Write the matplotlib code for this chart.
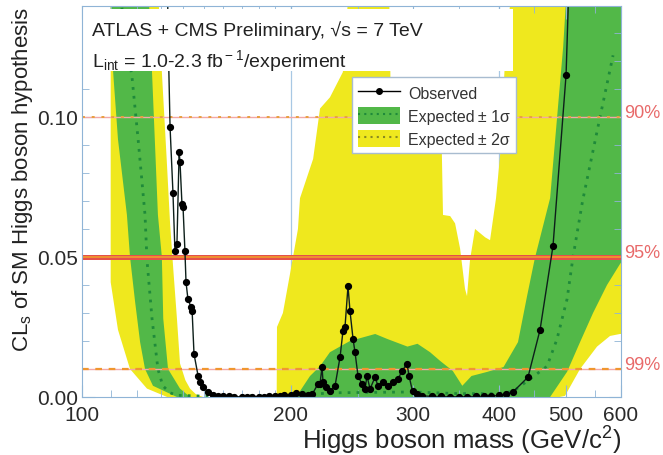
import numpy as np
import matplotlib
matplotlib.use('Agg')
import matplotlib.pyplot as plt
from matplotlib.patches import Patch, Rectangle
from matplotlib.lines import Line2D
from matplotlib.ticker import FixedLocator, NullFormatter

plt.rcParams['font.family'] = ['Liberation Sans', 'DejaVu Sans']
plt.rcParams['mathtext.fontset'] = 'custom'
plt.rcParams['mathtext.rm'] = 'Liberation Sans'
plt.rcParams['mathtext.it'] = 'Liberation Sans:italic'

# expected +2 sigma (upper edge of yellow band)
m_hi2 = [110, 128, 130.4, 132.5, 134, 135.5, 137.1, 138.5, 141, 143.2, 146, 149.5, 191, 191.2, 195,
         200, 205, 206.4, 215.6, 220.6, 228, 238, 245, 277, 279, 330, 332, 340, 345.6, 351.4,
         357.2, 359.6, 363.2, 369.3, 382, 388.2, 396, 401.3, 408, 421.8, 600]
hi2 = [0.40, 0.16, 0.116, 0.085, 0.062, 0.045, 0.028, 0.012, 0.006, 0.003, 0.001, 0.0, 0.0, 0.025, 0.030,
       0.045, 0.060, 0.071, 0.085, 0.103, 0.107, 0.116, 0.16, 0.16, 0.108, 0.100, 0.065, 0.0646, 0.062, 0.053,
       0.0386, 0.036, 0.049, 0.060, 0.057, 0.056, 0.071, 0.086, 0.12, 0.16, 0.16]

# expected -2 sigma (lower edge of yellow band)
m_lo2 = [110, 112.7, 117.3, 124.1, 132.7, 489, 498, 523.6, 554, 578.5, 598, 600]
lo2 = [0.041, 0.024, 0.010, 0.003, 0.0, 0.0, 0.0004, 0.010, 0.018, 0.0218, 0.0225, 0.0225]

# expected +1 sigma (upper edge of green band)
m_hi1 = [110, 124, 126.2, 128.7, 130.4, 131.0, 133.1, 138.5, 143.2, 200, 205, 213.4, 220.6, 228,
         243.7, 265, 276, 295, 305, 318, 328.8, 343, 354, 365, 385, 406, 426, 439, 450.6, 474,
         495, 505, 600]
hi1 = [0.30, 0.16, 0.116, 0.065, 0.050, 0.028, 0.010, 0.003, 0.0, 0.0, 0.001, 0.0075, 0.011, 0.016,
       0.020, 0.0225, 0.0207, 0.018, 0.019, 0.016, 0.0129, 0.0093, 0.004, 0.0075, 0.009, 0.0107, 0.0196,
       0.036, 0.0496, 0.071, 0.125, 0.16, 0.16]

# expected -1 sigma (lower edge of green band)
m_lo1 = [110, 110.9, 112.7, 116.1, 117.3, 119.3, 121.3, 123.3, 126.6, 137.1, 474, 501.5, 523.6,
         546.7, 572.7, 598, 600]
lo1 = [0.125, 0.116, 0.092, 0.065, 0.050, 0.034, 0.0196, 0.010, 0.004, 0.0, 0.0, 0.009, 0.0196,
       0.030, 0.040, 0.0475, 0.048]

# expected median
m_med = [110, 114, 118.1, 120.5, 123.3, 124.1, 126.2, 128.7, 130.8, 134, 137.1, 150, 200, 230, 300,
         350, 400, 419, 443.4, 469.2, 485, 501.5, 511.5, 528, 559.6, 584.3]
med = [0.17, 0.14, 0.114, 0.092, 0.065, 0.049, 0.028, 0.010, 0.004, 0.0015, 0.0006, 0.0003, 0.0005,
       0.0015, 0.0018, 0.0012, 0.0012, 0.002, 0.0064, 0.011, 0.0207, 0.035, 0.050, 0.070, 0.100, 0.122]

# observed
m_obs = [130.0, 132.2, 133.1, 134.0, 135.3, 136.2, 137.1, 138.1, 138.5, 139.4, 139.9, 140.8, 141.3,
         142.2, 143.7, 144.2, 145.1, 147.1, 148.0, 149.5, 152.0, 154.6, 157, 160, 163, 166, 170, 173,
         176, 180, 183, 186, 190, 193, 196, 200, 204, 208, 212, 215, 219, 220.5, 222.1, 222.8, 225,
         228.1, 231.9, 235.8, 238.1, 239.7, 242.1, 243.7, 246.2, 247.8, 250.3, 253.7, 256.2, 257.9,
         260.5, 264.9, 267.5, 272.0, 276.5, 281.2, 285.9, 289.7, 294.6, 296.6, 300.0, 304.5, 310, 320,
         330, 340, 350, 360, 370, 380, 390, 400, 410, 419, 440.4, 458.4, 478.6, 499.8, 520]
obs = [0.30, 0.20, 0.13, 0.0964, 0.0729, 0.052, 0.0546, 0.0875, 0.084, 0.069, 0.068, 0.052, 0.041,
       0.035, 0.032, 0.0307, 0.0154, 0.0075, 0.0054, 0.0036, 0.0018, 0.0006, 0.0003, 0.0002, 0.0002,
       0.0001, 0.0001, 0.0001, 0.0001, 0.0001, 0.0001, 0.0002, 0.0003, 0.0004, 0.0007, 0.0008, 0.0014,
       0.0012, 0.0006, 0.0010, 0.0046, 0.0045, 0.0107, 0.0054, 0.0035, 0.0020, 0.0040, 0.0143, 0.0236,
       0.0250, 0.0396, 0.0307, 0.0207, 0.0160, 0.0075, 0.0046, 0.0029, 0.0075, 0.0029, 0.0071, 0.0039,
       0.0054, 0.0039, 0.0054, 0.0064, 0.0093, 0.0118, 0.0075, 0.0020, 0.0010, 0.0004, 0.0002, 0.0002,
       0.0001, 0.0001, 0.0001, 0.0002, 0.0002, 0.0003, 0.0006, 0.0010, 0.0018, 0.0071, 0.024, 0.054,
       0.115, 0.25]

cl_levels = [0.10, 0.05, 0.01]
cl_labels = ['90%', '95%', '99%']
xticks = [100, 200, 300, 400, 500, 600]
yticks = [0.00, 0.05, 0.10]

yellow = '#efe81e'
green = '#52b848'
dotc = '#1f8a3a'
frame = '#8fb4d6'
red = '#e4504a'

fig = plt.figure(figsize=(6.63, 4.56), dpi=100)
ax = fig.add_axes([0.1237, 0.1272, 0.813, 0.8574])
ax.set_xscale('log')
ax.set_xlim(100, 600)
ax.set_ylim(0, 0.1396)

# grid lines
for g in [200, 400]:
    ax.axvline(g, color='#a8c8e4', lw=0.9, zorder=0.5)

# bands
ax.fill(np.r_[m_hi2, m_lo2[::-1]], np.r_[hi2, lo2[::-1]], color=yellow, lw=0, zorder=1)
ax.fill(np.r_[m_hi1, m_lo1[::-1]], np.r_[hi1, lo1[::-1]], color=green, lw=0, zorder=1.5)
ax.plot(m_med, med, color=dotc, lw=2, linestyle=(0, (1, 2.2)), zorder=2)

# CL lines
ax.axhline(0.10, color='#f2a8a8', lw=1.0, zorder=3)
ax.axhline(0.10, color='#e8a040', lw=1.4, linestyle=(0, (1.5, 3.5)), zorder=3)
ax.axhline(0.05, color=red, lw=3.6, zorder=3)
ax.axhline(0.05, color='#f0962e', lw=1.3, zorder=3)
ax.axhline(0.01, color='#f2a8a8', lw=1.0, zorder=3)
ax.axhline(0.01, color='#f0962e', lw=1.6, linestyle=(0, (3, 3)), zorder=3)

# observed
ax.plot(m_obs, obs, color='#0d1f1a', lw=1.0, marker='o', ms=4.2, mfc='black', mec='black', zorder=5)

# white panel behind the header text
ax.add_patch(Rectangle((0, 0.834), 0.80, 0.158, transform=ax.transAxes,
                       facecolor='white', edgecolor='none', zorder=6))
ax.text(0.018, 0.94, 'ATLAS + CMS Preliminary, \u221as = 7 TeV', transform=ax.transAxes,
        fontsize=14, color='#222222', va='center', zorder=7)
ax.text(0.018, 0.862, r'L$_{\rm int}$ = 1.0-2.3 fb$^{\rm -1}$/experiment', transform=ax.transAxes,
        fontsize=14, color='#222222', va='center', zorder=7)

for lev, lab in zip(cl_levels, cl_labels):
    ax.text(1.006, lev + 0.0015, lab, transform=ax.get_yaxis_transform(), color='#e86a6a',
            fontsize=13, va='center', ha='left', clip_on=False)

# legend
h_obs = Line2D([], [], color='black', lw=1.0, marker='o', ms=4)
h_1s = (Patch(facecolor=green, edgecolor='none'), Line2D([], [], color=dotc, lw=1.5, linestyle=(0, (1, 2))))
h_2s = (Patch(facecolor=yellow, edgecolor='none'), Line2D([], [], color='#8a8a20', lw=1.5, linestyle=(0, (1, 2))))
leg = ax.legend([h_obs, h_1s, h_2s], ['Observed', 'Expected\u2009\u00b1 1\u03c3', 'Expected\u2009\u00b1 2\u03c3'],
                loc='upper left', bbox_to_anchor=(0.501, 0.818), fontsize=11.5, frameon=True,
                fancybox=False, edgecolor='#a8bcd0', framealpha=1, handlelength=2.6,
                handleheight=1.3, labelspacing=0.35, borderpad=0.4, handletextpad=0.5,
                borderaxespad=0)
leg.get_frame().set_linewidth(1.0)
leg.set_zorder(8)
for t in leg.get_texts():
    t.set_color('#333333')

# axes styling
for s in ax.spines.values():
    s.set_color(frame)
    s.set_zorder(9)
ax.xaxis.set_major_locator(FixedLocator(xticks))
ax.set_xticklabels([str(v) for v in xticks])
ax.xaxis.set_minor_locator(FixedLocator([110, 120, 130, 140, 150, 160, 170, 180, 190,
                                         250, 350, 450, 550]))
ax.xaxis.set_minor_formatter(NullFormatter())
ax.set_yticks(yticks)
ax.set_yticklabels(['0.00', '0.05', '0.10'])
ax.set_yticks(np.arange(0.01, 0.14, 0.01), minor=True)
ax.tick_params(which='both', direction='in', top=True, right=True, color=frame,
               labelcolor='#2a2a2a', labelsize=15)
ax.tick_params(which='major', length=9)
ax.tick_params(which='minor', length=5)
ax.tick_params(axis='x', pad=6)
ax.tick_params(axis='y', pad=3)

ax.set_xlabel(r'Higgs boson mass (GeV/c$^{2}$)', fontsize=18.5, loc='right', color='#222222')
ax.xaxis.set_label_coords(1.0, -0.068)
ax.set_ylabel(r'CL$_{\rm s}$ of SM Higgs boson hypothesis', fontsize=16, loc='top', color='#222222')
ax.yaxis.set_label_coords(-0.088, 1.0)

fig.savefig('out.png', dpi=100)
